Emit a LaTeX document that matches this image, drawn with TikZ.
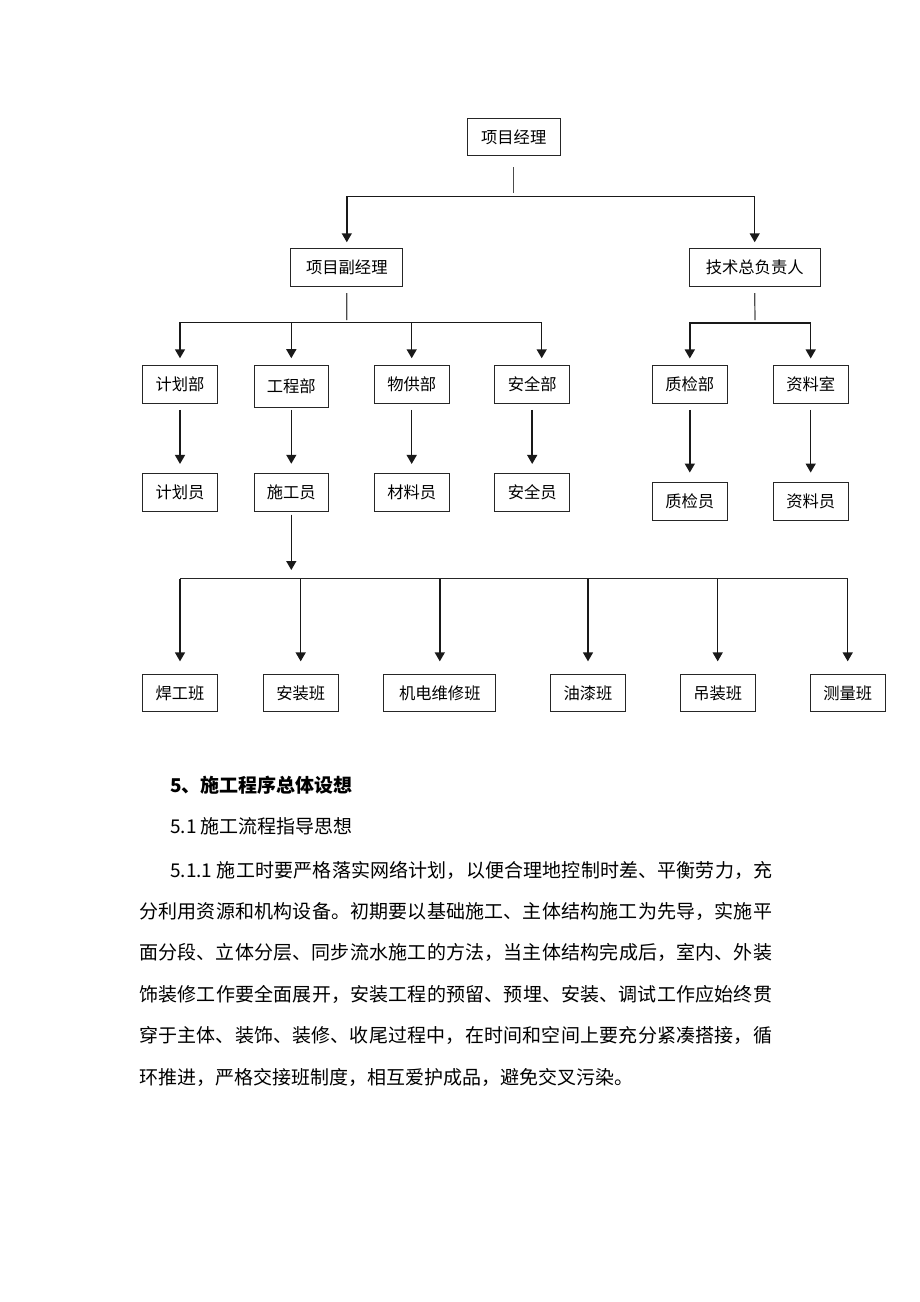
\documentclass[tikz,border=0pt]{standalone}
\usepackage{fontspec}
\setmainfont{Noto Sans CJK SC}
\usepackage{tikz}
\usetikzlibrary{arrows.meta}
\XeTeXlinebreaklocale "zh"
\XeTeXlinebreakskip=0pt plus 1pt

\begin{document}
\begin{tikzpicture}[x=1pt, y=-1pt,
    box/.style={rectangle, draw=black!85, line width=1pt, minimum width=74.6pt, minimum height=37.5pt, inner sep=0pt, font=\fontsize{16.3}{19}\selectfont},
    stem/.style={draw=black!70, line width=1.2pt},
    bar/.style={draw=black!85, line width=1.5pt},
    arr/.style={draw=black!90, line width=1.5pt, -{Triangle[length=9pt,width=10pt]}},
    bodytext/.style={font=\fontsize{19}{41.4}\selectfont, inner sep=0pt},
    headtext/.style={font=\fontsize{19}{24}\selectfont\bfseries, inner sep=0pt}]
    \path[fill=white, use as bounding box] (0,0) rectangle (920,1302);

    % management
    \node[box, minimum width=92.7pt] (pm) at (513.7,137) {项目经理};
    \node[box, minimum width=111.7pt] (dpm) at (346.8,267.5) {项目副经理};
    \node[box, minimum width=130.7pt] (tech) at (754.7,267.5) {技术总负责人};

    % departments
    \node[box] (plan) at (180,384.5) {计划部};
    \node[box, minimum height=41.6pt] (eng) at (291.3,386.5) {工程部};
    \node[box] (supply) at (411.7,384.5) {物供部};
    \node[box] (safe) at (532.2,384.5) {安全部};
    \node[box] (qc) at (689.8,384.7) {质检部};
    \node[box] (doc) at (810.7,384.7) {资料室};

    % staff
    \node[box] (planner) at (180,492.7) {计划员};
    \node[box] (worker) at (291.3,492.7) {施工员};
    \node[box] (material) at (411.7,492.7) {材料员};
    \node[box] (safety) at (532.2,492.7) {安全员};
    \node[box] (inspector) at (689.8,501.3) {质检员};
    \node[box] (archivist) at (810.7,501.3) {资料员};

    % teams
    \node[box] (weld) at (180,692.9) {焊工班};
    \node[box] (install) at (300.7,692.9) {安装班};
    \node[box, minimum width=111.7pt] (electric) at (439.8,692.9) {机电维修班};
    \node[box] (paint) at (588,692.9) {油漆班};
    \node[box] (hoist) at (717.7,692.9) {吊装班};
    \node[box] (survey) at (847.7,692.9) {测量班};

    \coordinate (pmbar) at (513.7,196.7);
    \coordinate (dpmbar) at (346.7,322.7);
    \coordinate (techbar) at (755,323);
    \coordinate (teambar) at (291.3,578.7);

    \draw[stem] ([yshift=-11pt]pm.south) -- ([yshift=3.4pt]pmbar);
    \draw[arr] (pmbar) -| ([yshift=6pt]dpm.north);
    \draw[arr] (pmbar) -| ([yshift=6pt]tech.north);

    \draw[stem] ([yshift=-6.3pt]dpm.south) -- ([yshift=2.7pt]dpmbar);
    \foreach \d in {plan,eng,supply}
        \draw[arr] (dpmbar) -| ([yshift=7pt]\d.north);
    \draw[arr] (dpmbar) -| ([xshift=9.5pt,yshift=7pt]safe.north);

    \draw[stem] ([yshift=-6.3pt]tech.south) -- ([yshift=3pt]techbar);
    \foreach \d in {qc,doc}
        \draw[arr] (techbar) -| ([yshift=7pt]\d.north);

    \foreach \a/\b in {plan/planner, supply/material, safe/safety, qc/inspector, doc/archivist}
        \draw[arr] ([yshift=-6pt]\a.south) -- ([yshift=9.5pt]\b.north);
    \draw[arr] ([yshift=-2pt]eng.south) -- ([yshift=9.7pt]worker.north);

    \draw[arr] ([yshift=-2.7pt]worker.south) -- ([yshift=8.7pt]teambar);
    \draw[bar] (weld.north |- teambar) -- (survey.north |- teambar);
    \foreach \t in {weld,install,electric,paint,hoist,survey}
        \draw[arr] (\t.north |- teambar) -- ([yshift=12.3pt]\t.north);

    % text below the chart
    \node[headtext, anchor=base west] (title) at (170,792.7) {5、施工程序总体设想};
    \node[bodytext, anchor=base west] (subtitle) at (170,833) {5.1 施工流程指导思想};
    \node[bodytext, anchor=base west, text width=633pt, align=justify] (para) at (139,877) {\hspace*{31pt}5.1.1 施工时要严格落实网络计划，以便合理地控制时差、平衡劳力，充\linebreak
        分利用资源和机构设备。初期要以基础施工、主体结构施工为先导，实施平\linebreak
        面分段、立体分层、同步流水施工的方法，当主体结构完成后，室内、外装\linebreak
        饰装修工作要全面展开，安装工程的预留、预埋、安装、调试工作应始终贯\linebreak
        穿于主体、装饰、装修、收尾过程中，在时间和空间上要充分紧凑搭接，循\linebreak
        环推进，严格交接班制度，相互爱护成品，避免交叉污染。};
\end{tikzpicture}
\end{document}
